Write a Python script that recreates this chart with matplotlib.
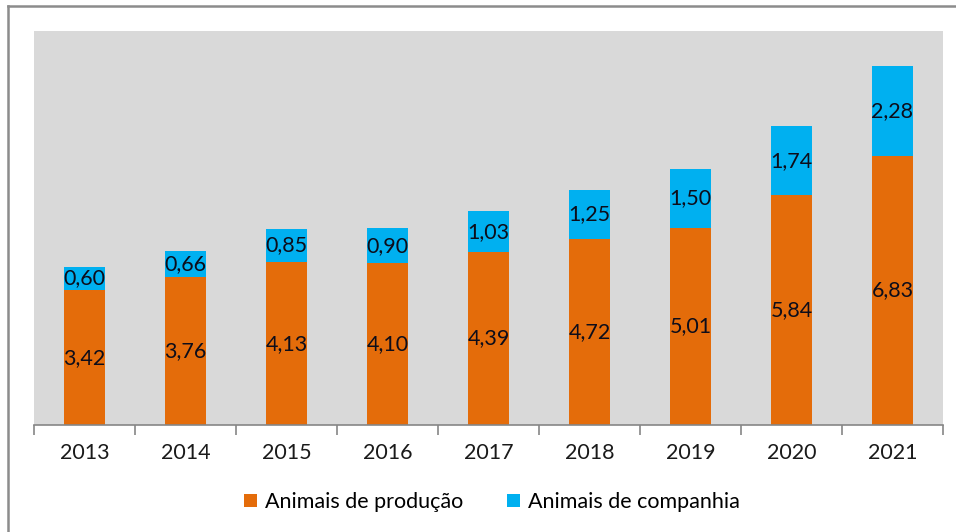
import matplotlib.pyplot as plt
import numpy as np
from matplotlib.lines import Line2D

# Data
years = ['2013', '2014', '2015', '2016', '2017', '2018', '2019', '2020', '2021']
producao = [3.42, 3.76, 4.13, 4.10, 4.39, 4.72, 5.01, 5.84, 6.83]
companhia = [0.60, 0.66, 0.85, 0.90, 1.03, 1.25, 1.50, 1.74, 2.28]

plt.rcParams['font.family'] = ['Lato', 'DejaVu Sans']

orange = '#E46C0A'
cyan = '#00B0F0'

fig = plt.figure(figsize=(9.56, 5.32), dpi=100)
ax = fig.add_axes([34 / 956, 1 - 425 / 532, (943 - 34) / 956, (425 - 31) / 532])
ax.set_facecolor('#D9D9D9')

x = np.arange(len(years))
b1 = ax.bar(x, producao, width=0.4, color=orange, label='Animais de produção')
b2 = ax.bar(x, companhia, width=0.4, bottom=producao, color=cyan, label='Animais de companhia')

# value labels, comma decimal separator
for bars, vals in ((b1, producao), (b2, companhia)):
    for rect, v in zip(bars, vals):
        cy = rect.get_y() + rect.get_height() / 2
        ax.text(rect.get_x() + rect.get_width() / 2, cy, ('%.2f' % v).replace('.', ','),
                ha='center', va='center', fontsize=15.5, color='#0D0D1A')

ax.set_xlim(-0.5, len(years) - 0.5)
ax.set_ylim(0, 10)
ax.set_yticks([])
for s in ['top', 'right', 'left']:
    ax.spines[s].set_visible(False)
ax.spines['bottom'].set_color('#868686')
ax.spines['bottom'].set_linewidth(1.2)

# labels at category centres, tick marks between categories
ax.set_xticks(x)
ax.set_xticklabels(years, fontsize=15.5, color='#1A1A1A')
ax.tick_params(axis='x', length=0, pad=13)
ax.set_xticks(np.arange(-0.5, len(years)), minor=True)
ax.tick_params(axis='x', which='minor', length=7, color='#868686', width=1.2)

leg = fig.legend(handles=[b1, b2], loc='center', bbox_to_anchor=(492 / 956, 1 - 502 / 532),
                 ncol=2, frameon=False, fontsize=15.5, handlelength=0.6, handleheight=0.6,
                 handletextpad=0.4, columnspacing=2.0)

# outer frame (only top and left visible in the crop)
fig.add_artist(Line2D([8 / 956, 8 / 956], [0, 1 - 6 / 532], color='#8C8C8C', lw=1.8,
                      transform=fig.transFigure))
fig.add_artist(Line2D([8 / 956, 1], [1 - 6 / 532, 1 - 6 / 532], color='#8C8C8C', lw=1.8,
                      transform=fig.transFigure))

fig.savefig('out.png', dpi=100)
